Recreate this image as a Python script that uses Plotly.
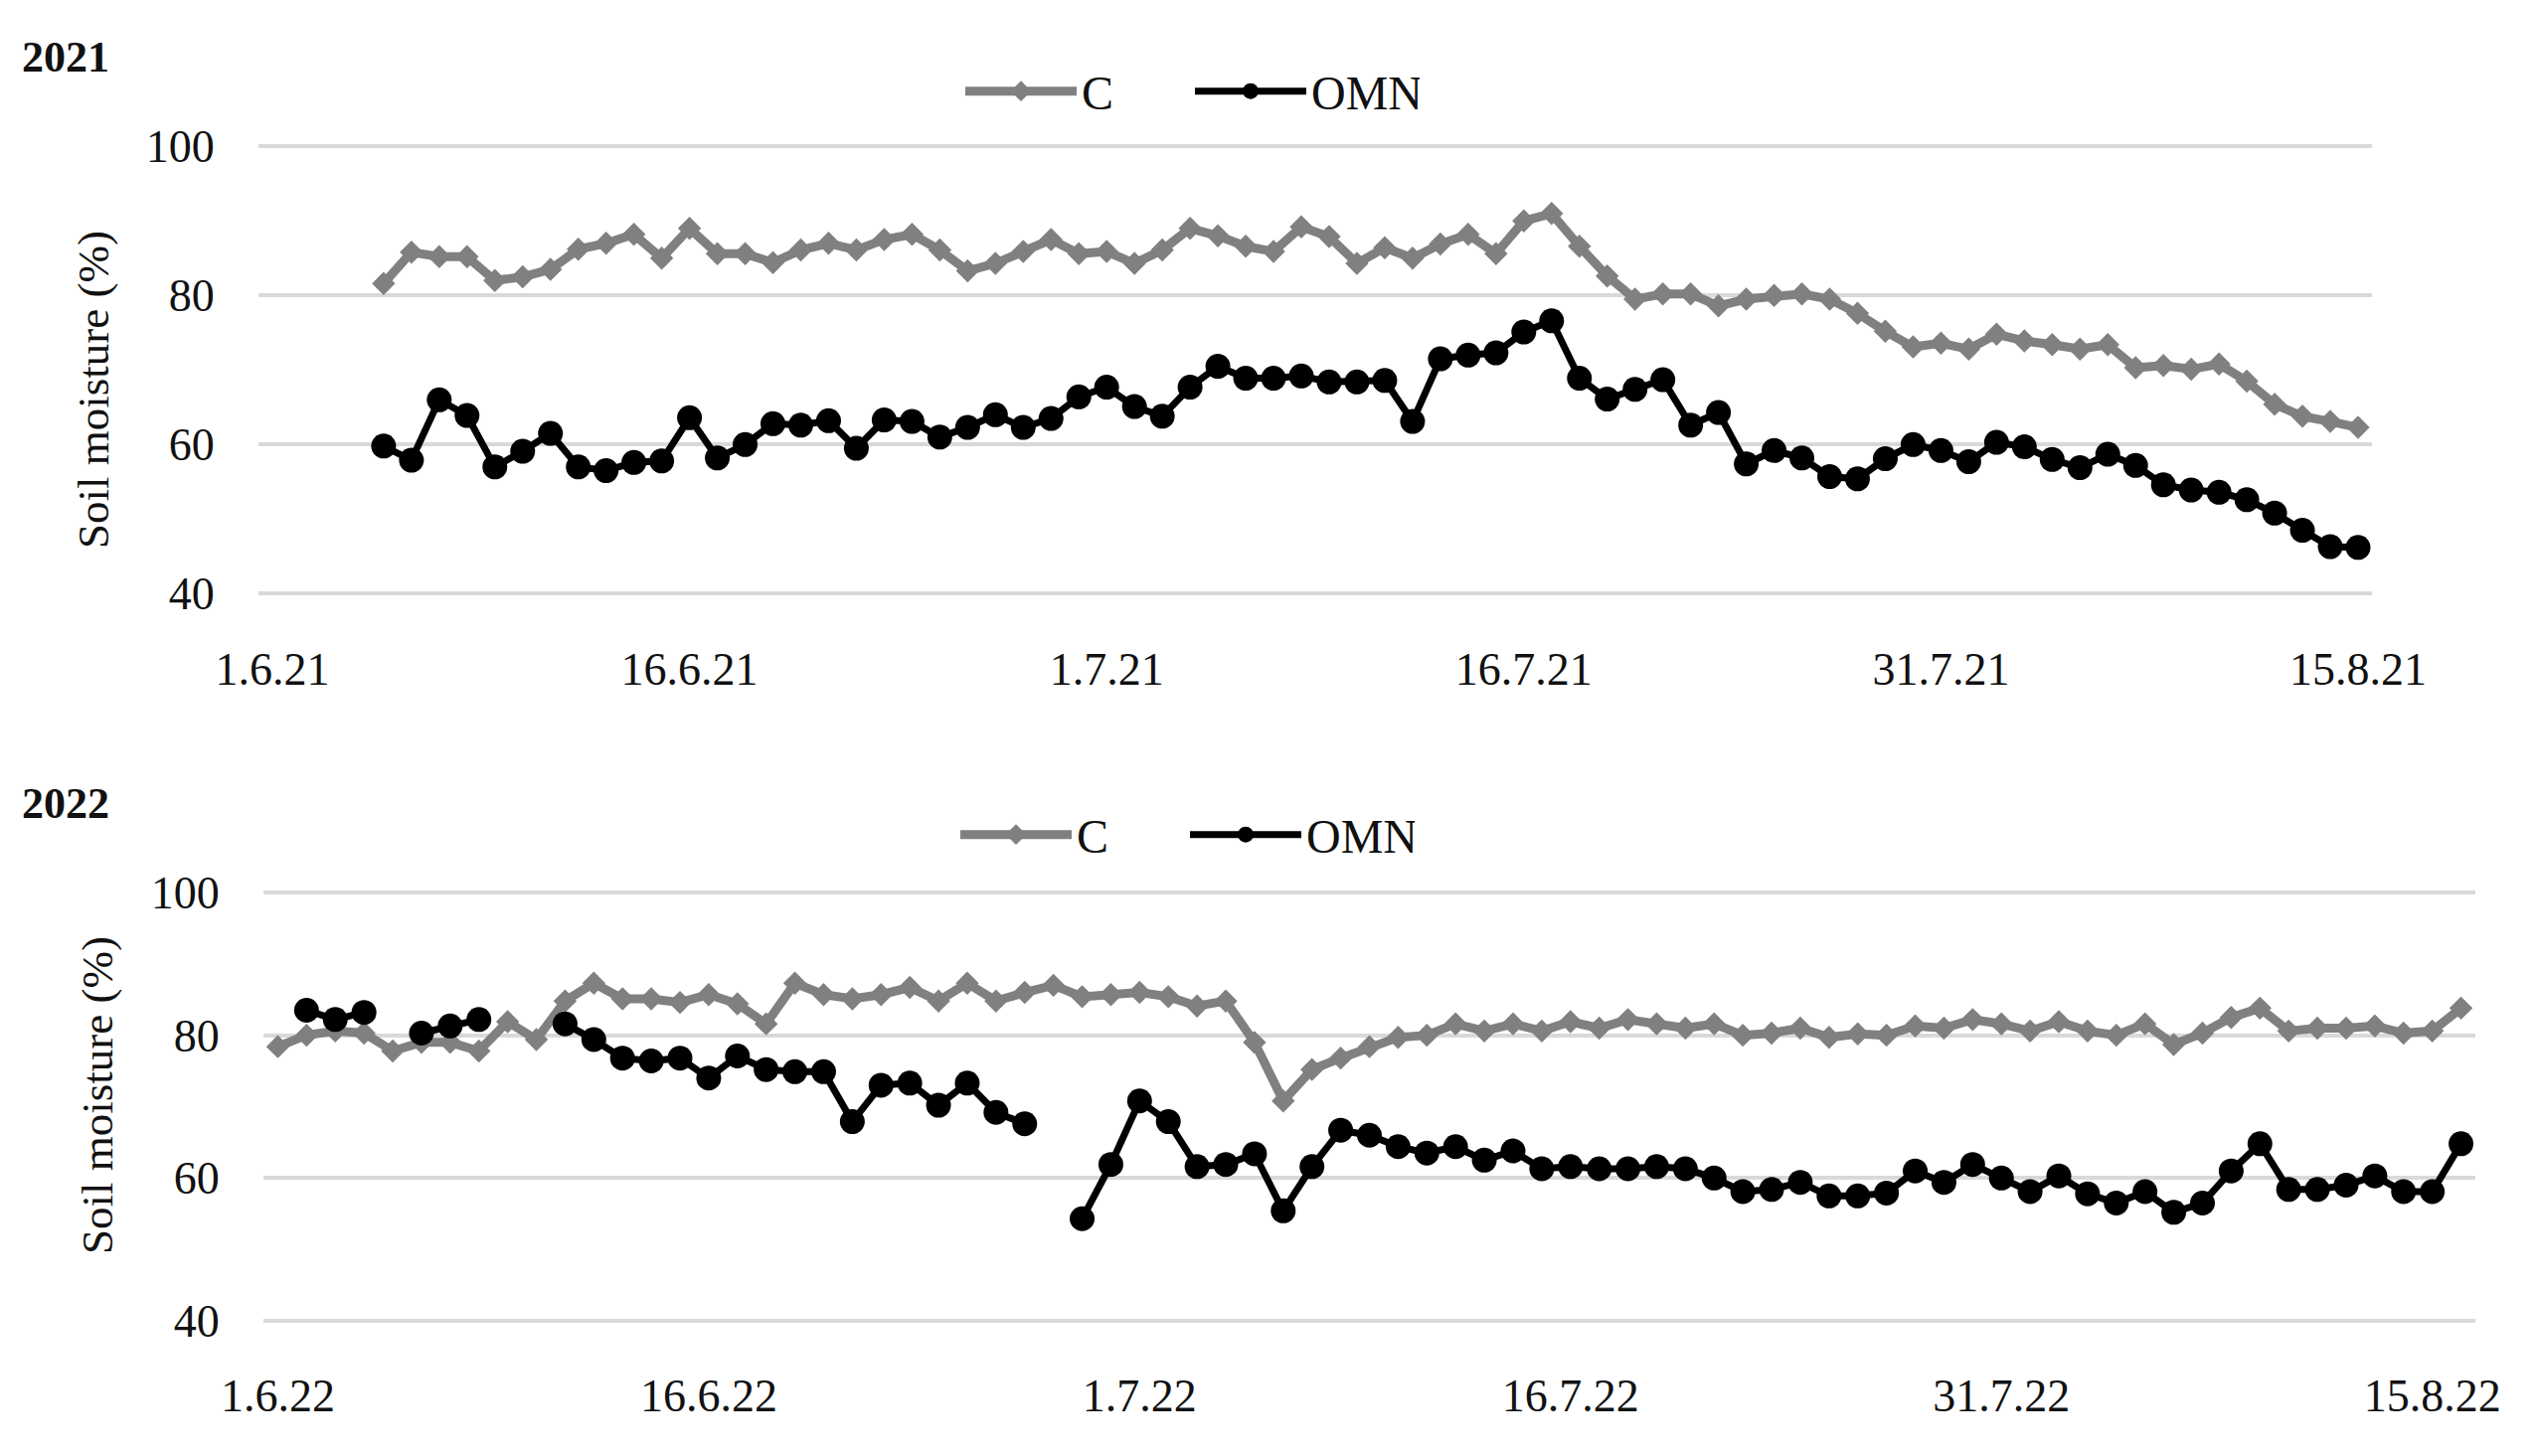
import pandas as pd
import plotly.graph_objects as go

# ---------------- data ----------------
tick_vals_2021 = ["2021-06-01", "2021-06-16", "2021-07-01", "2021-07-16", "2021-07-31", "2021-08-15"]
tick_text_2021 = ["1.6.21", "16.6.21", "1.7.21", "16.7.21", "31.7.21", "15.8.21"]
tick_vals_2022 = ["2022-06-01", "2022-06-16", "2022-07-01", "2022-07-16", "2022-07-31", "2022-08-15"]
tick_text_2022 = ["1.6.22", "16.6.22", "1.7.22", "16.7.22", "31.7.22", "15.8.22"]

start_2021, end_2021 = "2021-06-05", "2021-08-15"
start_2022, end_2022 = "2022-06-01", "2022-08-16"

c_2021 = [81.6, 85.8, 85.2, 85.2, 82.0, 82.5, 83.5, 86.2, 87.0, 88.2,
          85.0, 89.0, 85.6, 85.6, 84.4, 86.1, 87.0, 86.1, 87.5, 88.2,
          86.1, 83.3, 84.3, 85.9, 87.5, 85.6, 85.9, 84.3, 86.1, 89.0,
          88.0, 86.6, 85.9, 89.2, 87.9, 84.3, 86.4, 85.0, 86.9, 88.2,
          85.6, 90.0, 91.0, 86.6, 82.6, 79.5, 80.2, 80.2, 78.6, 79.5,
          80.0, 80.2, 79.5, 77.6, 75.2, 73.1, 73.6, 72.8, 74.8, 73.9,
          73.4, 72.8, 73.4, 70.3, 70.6, 70.1, 70.8, 68.5, 65.4, 63.8,
          63.1, 62.3]
omn_2021 = [59.8, 57.9, 66.0, 63.9, 57.0, 59.1, 61.5, 57.0, 56.5, 57.6,
            57.8, 63.6, 58.2, 60.0, 62.8, 62.6, 63.2, 59.5, 63.3, 63.1,
            61.0, 62.3, 64.0, 62.3, 63.5, 66.4, 67.7, 65.1, 63.8, 67.7,
            70.5, 68.9, 68.9, 69.2, 68.4, 68.4, 68.6, 63.1, 71.5, 72.0,
            72.3, 75.1, 76.6, 68.9, 66.1, 67.4, 68.7, 62.6, 64.3, 57.4,
            59.2, 58.2, 55.7, 55.4, 58.1, 60.0, 59.2, 57.7, 60.3, 59.7,
            58.0, 56.9, 58.7, 57.2, 54.6, 53.9, 53.6, 52.6, 50.8, 48.5,
            46.3, 46.2]
c_2022 = [78.4, 80.0, 80.6, 80.3, 77.8, 79.0, 79.0, 77.8, 81.9, 79.4,
          84.8, 87.3, 85.1, 85.1, 84.6, 85.7, 84.4, 81.6, 87.3, 85.7,
          85.1, 85.7, 86.7, 84.8, 87.3, 84.8, 86.0, 87.0, 85.4, 85.7,
          86.0, 85.4, 84.1, 84.8, 79.0, 70.8, 75.2, 76.8, 78.4, 79.7,
          80.0, 81.6, 80.6, 81.6, 80.6, 81.9, 81.0, 82.2, 81.6, 81.0,
          81.6, 80.0, 80.3, 81.0, 79.7, 80.2, 80.0, 81.3, 81.0, 82.2,
          81.6, 80.6, 81.9, 80.6, 80.0, 81.6, 78.7, 80.3, 82.5, 83.8,
          80.6, 81.0, 81.0, 81.3, 80.3, 80.6, 83.8]
omn_2022 = [None, 83.5, 82.2, 83.2, None, 80.3, 81.3, 82.2, None, None,
            81.6, 79.4, 76.8, 76.4, 76.8, 74.0, 77.1, 75.2, 74.9, 74.9,
            67.9, 73.0, 73.3, 70.2, 73.3, 69.2, 67.6, None, 54.3, 61.9,
            70.8, 67.9, 61.6, 61.9, 63.4, 55.4, 61.6, 66.7, 66.0, 64.4,
            63.5, 64.4, 62.5, 63.8, 61.3, 61.6, 61.3, 61.3, 61.6, 61.3,
            60.0, 58.1, 58.4, 59.4, 57.5, 57.5, 57.9, 61.0, 59.4, 61.9,
            60.0, 58.1, 60.3, 57.8, 56.5, 58.1, 55.2, 56.5, 61.0, 64.8,
            58.4, 58.4, 59.0, 60.3, 58.1, 58.1, 64.8]

y_ticks = [40, 60, 80, 100]
y_title = "Soil moisture (%)"

dates_2021 = pd.date_range(start_2021, end_2021, freq="D")
dates_2022 = pd.date_range(start_2022, end_2022, freq="D")

# ---------------- styling ----------------
FONT = "Liberation Serif, Times New Roman, serif"
GRAY = "#808080"
BLACK = "#000000"
TXT = "#111111"
PAGE_W, PAGE_H = 2551, 1465
BODY = 8                      # default body margin of the html page
W, H = PAGE_W - 2 * BODY, PAGE_H - 2 * BODY

fig = go.Figure()

def add_pair(x, c, omn, xa, ya, leg):
    fig.add_trace(go.Scatter(
        x=x, y=c, name="C", mode="lines+markers", xaxis=xa, yaxis=ya, legend=leg,
        line=dict(color=GRAY, width=9), marker=dict(symbol="diamond", size=18, color=GRAY),
    ))
    fig.add_trace(go.Scatter(
        x=x, y=omn, name="OMN", mode="lines+markers", xaxis=xa, yaxis=ya, legend=leg,
        line=dict(color=BLACK, width=7), marker=dict(symbol="circle", size=25, color=BLACK),
        connectgaps=False,
    ))

add_pair(dates_2021, c_2021, omn_2021, "x", "y", "legend")
add_pair(dates_2022, c_2022, omn_2022, "x2", "y2", "legend2")

# screen pixel -> paper fraction
def px_x(p):
    return (p - BODY) / W

def px_y(p):
    return 1 - (p - BODY) / H

PAD = 0.3  # extra y-range so that the 40 and 100 gridlines are drawn

xcommon = dict(showgrid=False, zeroline=False, showline=False, ticks="outside", ticklen=33,
               tickcolor="rgba(0,0,0,0)", tickfont=dict(family=FONT, size=46, color=TXT),
               automargin=False, type="date")
ycommon = dict(range=[40 - PAD, 100 + PAD], tickvals=y_ticks, showgrid=True,
               gridcolor="#d9d9d9", gridwidth=4,
               zeroline=False, showline=False, ticks="outside", ticklen=34,
               tickcolor="rgba(0,0,0,0)", tickfont=dict(family=FONT, size=46, color=TXT),
               automargin=False)

# plot area (screen px, y between 100 and 40 gridlines)
top_y100, top_y40 = 147.3, 597.3
bot_y100, bot_y40 = 898.0, 1329.0
tpu = (top_y40 - top_y100) / 60
bpu = (bot_y40 - bot_y100) / 60

legend_common = dict(orientation="h", xanchor="left", yanchor="middle",
                     font=dict(family=FONT, size=48, color=TXT), bgcolor="rgba(0,0,0,0)",
                     entrywidth=104, entrywidthmode="pixels", itemwidth=112)

fig.update_layout(
    width=W, height=H,
    margin=dict(l=0, r=0, t=0, b=0),
    paper_bgcolor="white", plot_bgcolor="white",
    font=dict(family=FONT, color=TXT),
    xaxis=dict(domain=[px_x(260), px_x(2386)], anchor="y",
               range=["2021-05-31 12:00", "2021-08-15 12:00"],
               tickvals=tick_vals_2021, ticktext=tick_text_2021, **xcommon),
    yaxis=dict(domain=[px_y(top_y40 + PAD * tpu), px_y(top_y100 - PAD * tpu)], anchor="x", **ycommon),
    xaxis2=dict(domain=[px_x(265), px_x(2490)], anchor="y2",
                range=["2022-05-31 12:00", "2022-08-16 12:00"],
                tickvals=tick_vals_2022, ticktext=tick_text_2022, **xcommon),
    yaxis2=dict(domain=[px_y(bot_y40 + PAD * bpu), px_y(bot_y100 - PAD * bpu)], anchor="x2", **ycommon),
    legend=dict(x=px_x(966), y=px_y(92), **legend_common),
    legend2=dict(x=px_x(961), y=px_y(840), **legend_common),
    annotations=[
        dict(text="<b>2021</b>", x=px_x(20), y=px_y(57), xref="paper", yref="paper",
             xanchor="left", yanchor="middle", showarrow=False,
             font=dict(family=FONT, size=44, color=TXT)),
        dict(text="<b>2022</b>", x=px_x(20), y=px_y(808), xref="paper", yref="paper",
             xanchor="left", yanchor="middle", showarrow=False,
             font=dict(family=FONT, size=44, color=TXT)),
        dict(text=y_title, x=px_x(94), y=px_y(392), xref="paper", yref="paper",
             xanchor="center", yanchor="middle", textangle=-90, showarrow=False,
             font=dict(family=FONT, size=45, color=TXT)),
        dict(text=y_title, x=px_x(98), y=px_y(1102), xref="paper", yref="paper",
             xanchor="center", yanchor="middle", textangle=-90, showarrow=False,
             font=dict(family=FONT, size=45, color=TXT)),
    ],
)

fig.write_html("out.html")
